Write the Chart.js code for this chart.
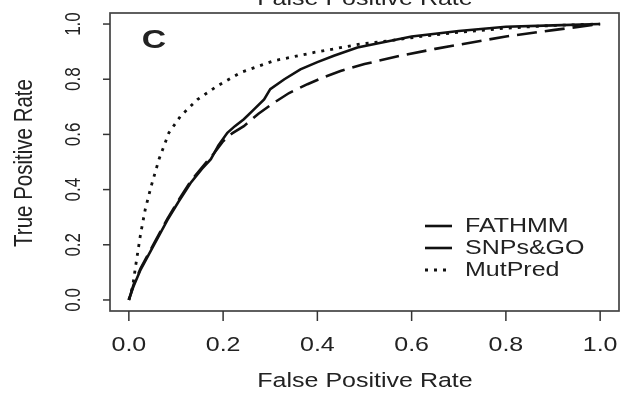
<!DOCTYPE html>
<html>
<head>
<meta charset="utf-8">
<script src="https://cdn.jsdelivr.net/npm/chart.js@4"></script>
<style>
html,body{margin:0;padding:0;background:#fff;}
#wrap{width:623px;height:396px;}
</style>
</head>
<body>
<div id="wrap"><canvas id="c" width="623" height="396"></canvas></div>
<script>
// ---- data ----
const seriesNames = ["FATHMM", "SNPs&GO", "MutPred"];
const fathmmFPR = [0, 0.01, 0.025, 0.047, 0.082, 0.105, 0.131, 0.155, 0.174, 0.19, 0.209, 0.225, 0.244, 0.265, 0.287, 0.30, 0.33, 0.364, 0.40, 0.435, 0.485, 0.54, 0.6, 0.7, 0.8, 0.9, 1.0];
const fathmmTPR = [0, 0.05, 0.11, 0.18, 0.29, 0.355, 0.424, 0.475, 0.51, 0.56, 0.606, 0.63, 0.655, 0.69, 0.727, 0.764, 0.80, 0.836, 0.862, 0.885, 0.915, 0.934, 0.955, 0.975, 0.99, 0.995, 1.0];
const snpsgoFPR = [0, 0.01, 0.025, 0.047, 0.082, 0.105, 0.131, 0.155, 0.18, 0.2, 0.22, 0.244, 0.275, 0.308, 0.34, 0.379, 0.41, 0.449, 0.5, 0.576, 0.65, 0.7, 0.8, 0.9, 1.0];
const snpsgoTPR = [0, 0.055, 0.115, 0.185, 0.295, 0.36, 0.43, 0.48, 0.53, 0.575, 0.605, 0.63, 0.675, 0.715, 0.75, 0.782, 0.805, 0.83, 0.855, 0.885, 0.91, 0.925, 0.955, 0.978, 1.0];
const mutpredFPR = [0, 0.008, 0.015, 0.025, 0.035, 0.047, 0.064, 0.085, 0.11, 0.146, 0.188, 0.237, 0.308, 0.393, 0.49, 0.555, 0.62, 0.7, 0.8, 0.9, 1.0];
const mutpredTPR = [0, 0.048, 0.13, 0.24, 0.33, 0.41, 0.51, 0.606, 0.667, 0.727, 0.776, 0.824, 0.867, 0.897, 0.927, 0.94, 0.955, 0.97, 0.985, 0.995, 1.0];
const xTicks = [0, 0.2, 0.4, 0.6, 0.8, 1.0];
const yTicks = [0, 0.2, 0.4, 0.6, 0.8, 1.0];
const xTitle = "False Positive Rate";
const yTitle = "True Positive Rate";
const panelLetter = "C";

const toPts = (xs, ys) => xs.map((x, i) => ({x: x, y: ys[i]}));
const FONT = '"Liberation Sans", Arial, sans-serif';
const INK = '#222';
const SX = 1.22; // horizontal stretch of text in reference

function stretchedText(ctx, txt, x, y, size, opts) {
  opts = opts || {};
  ctx.save();
  ctx.translate(x, y);
  ctx.scale(opts.sx || SX, 1);
  if (opts.rot) ctx.rotate(opts.rot);
  ctx.font = (opts.weight ? opts.weight + ' ' : '') + size + 'px ' + FONT;
  ctx.fillStyle = INK;
  ctx.textAlign = opts.align || 'center';
  ctx.textBaseline = opts.baseline || 'middle';
  ctx.fillText(txt, 0, 0);
  ctx.restore();
}

const rAxes = {
  id: 'rAxes',
  afterDraw(chart) {
    const ctx = chart.ctx;
    const a = chart.chartArea;
    const xs = chart.scales.x, ys = chart.scales.y;
    ctx.save();
    // box
    ctx.strokeStyle = '#444';
    ctx.lineWidth = 1.7;
    ctx.strokeRect(a.left, a.top, a.right - a.left, a.bottom - a.top);
    // x ticks
    ctx.strokeStyle = '#333';
    ctx.lineWidth = 1.5;
    xTicks.forEach(v => {
      const px = xs.getPixelForValue(v);
      ctx.beginPath(); ctx.moveTo(px, a.bottom); ctx.lineTo(px, a.bottom + 10); ctx.stroke();
      stretchedText(ctx, v.toFixed(1), px, 345, 20.5);
    });
    // y ticks
    yTicks.forEach(v => {
      const py = ys.getPixelForValue(v);
      ctx.beginPath(); ctx.moveTo(a.left, py); ctx.lineTo(a.left - 7, py); ctx.stroke();
      stretchedText(ctx, v.toFixed(1), 74, py, 17, {rot: -Math.PI / 2, sx: 1.35});
    });
    // axis titles
    stretchedText(ctx, xTitle, 365, 381, 20.5);
    stretchedText(ctx, yTitle, 25, 163, 20.5, {rot: -Math.PI / 2, sx: 1.3});
    // cropped top title
    stretchedText(ctx, xTitle, 365, 5, 20.5, {baseline: 'alphabetic'});
    // panel letter
    stretchedText(ctx, panelLetter, 154, 41, 25, {weight: 'bold', sx: 1.35});
    // legend
    const rows = [226, 248, 270];
    chart.data.datasets.forEach((ds, i) => {
      const y = rows[i];
      ctx.save();
      ctx.strokeStyle = ds.borderColor;
      ctx.lineWidth = ds.borderWidth;
      ctx.setLineDash(i === 2 ? ds.borderDash : []);
      ctx.beginPath(); ctx.moveTo(425, y); ctx.lineTo(452, y); ctx.stroke();
      ctx.restore();
      stretchedText(ctx, ds.label, 465, y, 20, {align: 'left', sx: 1.25});
    });
    ctx.restore();
  }
};

new Chart(document.getElementById('c'), {
  type: 'scatter',
  data: {
    datasets: [
      {label: seriesNames[0], data: toPts(fathmmFPR, fathmmTPR), borderColor: '#111', borderWidth: 2.6, borderDash: []},
      {label: seriesNames[1], data: toPts(snpsgoFPR, snpsgoTPR), borderColor: '#111', borderWidth: 2.6, borderDash: [20, 8]},
      {label: seriesNames[2], data: toPts(mutpredFPR, mutpredTPR), borderColor: '#111', borderWidth: 2.8, borderDash: [3, 6]}
    ].map(d => Object.assign(d, {showLine: true, pointRadius: 0, tension: 0, fill: false}))
  },
  options: {
    responsive: false,
    animation: false,
    layout: {padding: {left: 110, top: 13, right: 4, bottom: 85}},
    plugins: {legend: {display: false}, tooltip: {enabled: false}},
    scales: {
      x: {type: 'linear', min: -0.04, max: 1.04, display: false},
      y: {type: 'linear', min: -0.04, max: 1.04, display: false}
    }
  },
  plugins: [rAxes]
});
</script>
</body>
</html>
